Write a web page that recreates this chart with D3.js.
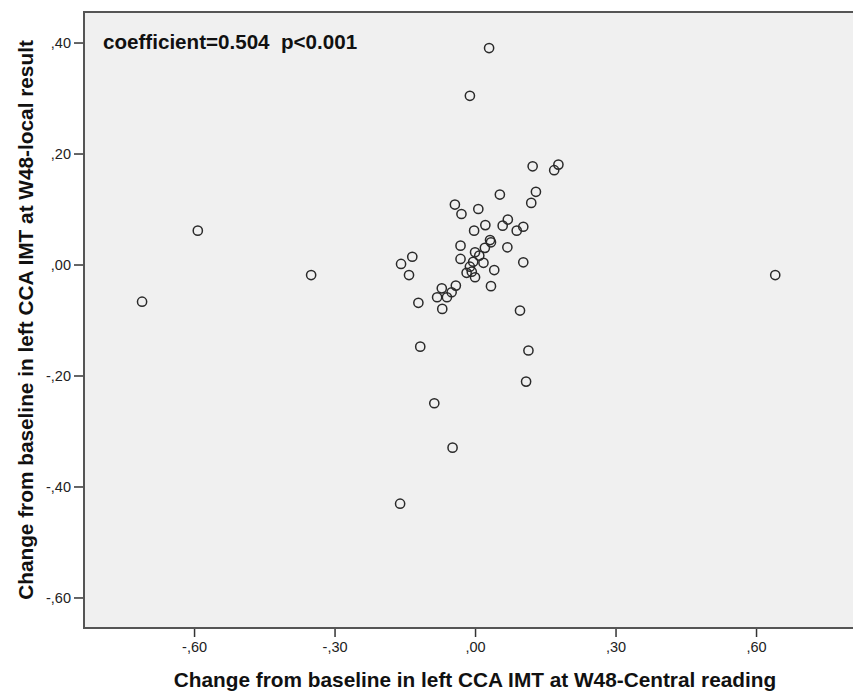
<!DOCTYPE html>
<html><head><meta charset="utf-8">
<script src="https://cdn.jsdelivr.net/npm/d3@7"></script>
<style>body{margin:0;background:#fff}svg{display:block}</style>
</head><body>
<svg id="c" width="853" height="694"></svg>
<script>
const xTicks = [-0.6, -0.3, 0, 0.3, 0.6];
const yTicks = [-0.6, -0.4, -0.2, 0, 0.2, 0.4];
const centralReading = [-0.711,-0.592,-0.350,0.641,0.030,-0.011,0.123,0.178,0.169,0.130,0.120,0.053,-0.043,-0.029,0.007,0.022,-0.002,0.059,0.070,0.089,0.103,0.032,0.034,-0.031,0.021,0.069,0.000,-0.031,0.018,-0.004,-0.011,-0.018,-0.007,0.000,0.041,0.103,0.034,-0.134,-0.158,-0.141,-0.041,-0.071,-0.050,-0.081,-0.060,-0.121,-0.070,0.096,-0.117,0.114,0.109,-0.087,-0.048,-0.160,0.009];
const localResult = [-0.067,0.061,-0.019,-0.019,0.390,0.304,0.177,0.180,0.170,0.131,0.111,0.126,0.108,0.091,0.100,0.071,0.061,0.070,0.081,0.061,0.068,0.044,0.040,0.034,0.030,0.031,0.022,0.010,0.003,0.005,-0.004,-0.015,-0.013,-0.023,-0.010,0.004,-0.039,0.014,0.001,-0.019,-0.038,-0.043,-0.050,-0.059,-0.059,-0.069,-0.080,-0.083,-0.148,-0.155,-0.211,-0.250,-0.330,-0.431,0.016];
const annotation = "coefficient=0.504  p<0.001";
const xTitle = "Change from baseline in left CCA IMT at W48-Central reading";
const yTitle = "Change from baseline in left CCA IMT at W48-local result";

const svg = d3.select("#c");
const L=84, R=860, T=12, B=628;
const x = d3.scaleLinear().domain([-0.835, 0.822]).range([L, R]);
const y = d3.scaleLinear().domain([-0.655, 0.455]).range([B, T]);
const fmt = d => (d < 0 ? "-" : "") + "," + String(Math.round(Math.abs(d)*100)).padStart(2, "0");
const font = "'Liberation Sans', Arial, sans-serif";

svg.append("rect").attr("x", L).attr("y", T).attr("width", R-L).attr("height", B-T)
  .attr("fill", "#f0f0f0").attr("stroke", "#555").attr("stroke-width", 2);

const xa = svg.append("g").attr("transform", `translate(0,${B+1})`)
  .call(d3.axisBottom(x).tickValues(xTicks).tickFormat(fmt).tickSize(8).tickSizeOuter(0));
const ya = svg.append("g").attr("transform", `translate(${L-1},0)`)
  .call(d3.axisLeft(y).tickValues(yTicks).tickFormat(fmt).tickSize(9).tickSizeOuter(0));
[xa, ya].forEach(a => {
  a.select(".domain").remove();
  a.selectAll(".tick line").attr("stroke", "#333").attr("stroke-width", 1.5);
  a.selectAll(".tick text").attr("fill", "#222").style("font-family", font).style("font-size", "14.5px");
});
xa.selectAll(".tick text").attr("y", 9).attr("dy", "0.95em");
ya.selectAll(".tick text").attr("x", -12);

const pts = centralReading.map((v, i) => [v, localResult[i]]);
svg.append("g").selectAll("circle").data(pts).join("circle")
  .attr("cx", d => x(d[0])).attr("cy", d => y(d[1])).attr("r", 4.6)
  .attr("fill", "none").attr("stroke", "#2a2a2a").attr("stroke-width", 1.5);

svg.append("text").attr("x", 103).attr("y", 49).attr("xml:space", "preserve").style("white-space", "pre").text(annotation)
  .style("font-family", font).style("font-weight", "bold").style("font-size", "20.6px").attr("fill", "#111");

svg.append("text").attr("x", 475).attr("y", 687).attr("text-anchor", "middle").text(xTitle)
  .style("font-family", font).style("font-weight", "bold").style("font-size", "20.8px").attr("fill", "#111");
svg.append("text").attr("transform", "translate(33,320) rotate(-90)").attr("text-anchor", "middle").text(yTitle)
  .style("font-family", font).style("font-weight", "bold").style("font-size", "20.8px").attr("fill", "#111");
</script>
</body></html>
